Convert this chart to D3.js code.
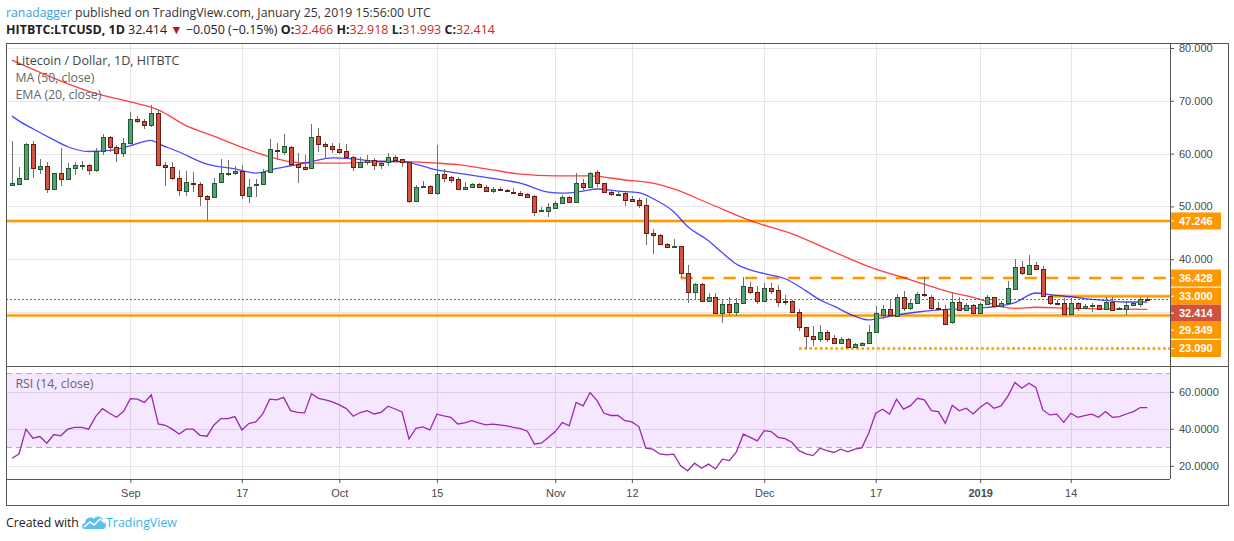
<!DOCTYPE html>
<html>
<head>
<meta charset="utf-8">
<script src="https://d3js.org/d3.v7.min.js"></script>
<style>
  body { margin: 0; background: #fff; }
  svg { display: block; font-family: "Liberation Sans", Arial, sans-serif; }
</style>
</head>
<body>
<svg id="chart"></svg>
<script>
// ---- data (daily candles, 15 Aug 2018 .. 25 Jan 2019) ----
const firstDay = "2018-08-15";
const lastDay = "2019-01-25";

const open = [
  54.0, 54.19, 55.26, 61.76, 57.03, 57.59, 53.24, 56.27, 55.13, 57.22,
  57.59, 57.78, 56.96, 60.5, 63.21, 61.32, 60.05, 61.95, 66.49, 66.17,
  65.35, 67.63, 57.78, 57.4, 55.45, 52.92, 54.5, 54.19, 51.91, 51.72,
  54.56, 56.14, 56.27, 56.71, 51.91, 53.99, 54.19, 56.46, 60.75, 60.37,
  61.19, 57.97, 57.4, 57.22, 63.34, 61.82, 61.38, 60.94, 60.43, 59.42,
  57.47, 58.41, 58.79, 57.78, 58.35, 59.42, 58.92, 58.35, 51.09, 53.62,
  53.81, 52.61, 56.08, 55.51, 55.13, 53.36, 53.62, 54.25, 53.62, 52.99,
  53.3, 53.11, 52.8, 52.61, 52.29, 51.97, 49.07, 49.2, 49.77, 50.59,
  51.72, 50.9, 54.37, 53.74, 56.46, 54.37, 52.73, 52.1, 52.48, 51.41,
  51.22, 50.21, 44.91, 44.53, 42.83, 42.38, 42.45, 37.34, 33.87, 35.32,
  32.16, 32.79, 29.89, 31.47, 30.08, 31.66, 34.69, 33.87, 32.16, 34.5,
  34.19, 32.09, 32.09, 30.07, 27.11, 25.47, 24.96, 26.22, 25.03, 24.2,
  24.9, 23.45, 23.82, 24.08, 26.16, 29.44, 30.58, 29.25, 32.79, 30.7,
  31.65, 33.42, 32.91, 30.83, 30.51, 28.05, 31.84, 30.39, 31.34, 29.88,
  31.46, 32.79, 31.21, 31.65, 34.36, 38.47, 37.14, 38.84, 38.09, 33.04,
  31.78, 31.65, 29.57, 31.65, 30.7, 31.15, 31.28, 30.64, 31.97, 30.58,
  30.58, 31.28, 31.46, 32.466
];
const high = [
  62.3, 57.53, 61.95, 62.39, 58.92, 58.48, 56.39, 61.0, 58.16, 58.48,
  58.6, 58.03, 61.0, 63.71, 63.34, 61.63, 62.89, 67.82, 67.12, 66.49,
  69.2, 68.26, 58.41, 58.48, 56.9, 56.65, 56.58, 54.69, 52.17, 55.32,
  58.92, 58.79, 57.72, 57.84, 55.26, 55.2, 57.03, 62.7, 61.95, 63.65,
  61.44, 60.05, 59.74, 65.54, 64.79, 62.2, 62.07, 61.95, 61.82, 59.55,
  59.42, 59.74, 59.11, 58.48, 60.18, 59.74, 59.04, 58.48, 54.06, 54.82,
  54.06, 61.63, 57.02, 55.76, 55.64, 54.56, 54.5, 54.5, 54.06, 53.74,
  53.74, 53.3, 53.43, 52.99, 52.48, 52.1, 49.96, 50.71, 50.97, 52.17,
  51.97, 56.39, 55.13, 56.52, 56.9, 54.5, 52.99, 52.99, 52.8, 51.97,
  51.53, 51.53, 45.73, 44.72, 43.14, 43.84, 42.51, 38.92, 35.57, 35.57,
  33.55, 33.55, 32.29, 32.92, 32.6, 36.71, 35.76, 34.94, 35.57, 35.57,
  35.13, 33.23, 32.28, 30.58, 27.11, 27.36, 27.55, 26.6, 25.66, 25.34,
  25.15, 24.2, 24.33, 27.55, 31.15, 31.34, 32.28, 33.42, 33.99, 32.28,
  33.86, 36.7, 33.23, 31.97, 31.34, 33.55, 32.91, 31.65, 31.52, 31.97,
  33.23, 32.91, 32.16, 35.94, 39.98, 39.73, 40.8, 39.54, 38.72, 33.23,
  32.28, 32.72, 32.72, 31.97, 31.46, 31.65, 31.34, 32.79, 32.91, 31.02,
  32.09, 31.97, 32.79, 32.918
];
const low = [
  53.87, 54.06, 55.0, 55.45, 56.14, 52.61, 53.11, 53.87, 55.0, 55.95,
  56.9, 55.95, 56.58, 59.74, 60.37, 58.48, 59.42, 61.82, 65.73, 64.6,
  65.1, 57.66, 53.87, 55.0, 52.04, 52.04, 52.8, 50.08, 47.31, 51.72,
  54.37, 55.76, 55.95, 51.47, 50.59, 51.72, 54.0, 56.46, 58.79, 59.74,
  58.0, 54.5, 56.9, 57.09, 60.24, 58.92, 60.05, 59.93, 59.11, 56.77,
  57.22, 57.84, 56.9, 57.09, 57.66, 58.35, 57.53, 50.71, 50.9, 53.43,
  52.48, 52.17, 54.69, 54.5, 53.11, 53.24, 53.43, 53.43, 52.73, 52.61,
  52.86, 52.7, 52.36, 51.97, 51.66, 48.19, 48.95, 48.06, 49.64, 50.46,
  50.71, 50.84, 53.11, 53.62, 53.62, 52.48, 51.97, 52.1, 50.08, 50.9,
  49.77, 42.7, 41.0, 42.7, 42.07, 42.38, 36.39, 31.79, 32.42, 32.16,
  32.16, 29.64, 28.0, 29.45, 29.26, 31.53, 33.43, 31.53, 31.97, 33.43,
  31.03, 31.34, 29.88, 26.48, 23.09, 23.57, 24.39, 24.39, 23.95, 24.08,
  23.32, 23.13, 23.76, 23.95, 25.97, 28.62, 29.13, 29.13, 30.26, 30.39,
  31.52, 32.91, 30.26, 30.26, 27.68, 27.74, 30.26, 30.2, 29.76, 29.76,
  31.34, 31.02, 31.02, 31.52, 34.18, 37.01, 37.01, 37.96, 32.91, 31.34,
  31.34, 29.44, 29.44, 30.2, 30.58, 30.07, 30.51, 30.51, 30.26, 30.51,
  29.44, 31.21, 31.02, 31.993
];
const close = [
  54.37, 55.32, 61.76, 57.22, 57.59, 53.24, 56.27, 55.13, 57.22, 57.78,
  57.78, 56.96, 60.43, 63.08, 61.32, 60.05, 61.95, 66.49, 66.17, 65.35,
  67.63, 57.78, 57.4, 55.45, 53.05, 54.56, 54.4, 51.91, 51.47, 54.37,
  56.27, 56.33, 56.71, 52.1, 53.74, 54.19, 56.46, 60.81, 60.6, 61.44,
  58.03, 57.4, 57.15, 63.08, 61.82, 61.38, 60.94, 60.24, 59.42, 57.47,
  58.41, 58.79, 57.78, 58.22, 59.42, 58.79, 58.41, 51.09, 53.62, 53.81,
  52.61, 56.08, 55.45, 55.07, 53.36, 53.62, 54.25, 53.62, 52.99, 53.3,
  53.05, 52.86, 52.48, 52.1, 51.85, 49.0, 49.33, 49.83, 50.65, 51.79,
  50.9, 54.37, 53.74, 56.27, 54.37, 52.67, 52.29, 52.36, 51.28, 51.09,
  50.21, 44.91, 44.53, 42.83, 42.38, 42.51, 37.34, 33.87, 35.32, 32.16,
  32.79, 29.89, 31.53, 30.08, 31.66, 34.94, 33.87, 32.16, 34.5, 34.06,
  31.97, 31.9, 30.07, 27.11, 25.47, 24.96, 26.22, 24.96, 24.2, 24.9,
  23.45, 23.89, 24.08, 26.16, 29.76, 30.58, 29.51, 32.79, 30.7, 31.65,
  33.36, 33.23, 30.83, 30.51, 27.8, 31.84, 30.39, 31.34, 29.88, 31.52,
  32.79, 31.21, 31.78, 34.49, 38.47, 37.33, 38.91, 38.09, 33.04, 31.65,
  31.65, 29.57, 31.65, 30.7, 31.15, 31.34, 30.64, 31.97, 30.45, 30.77,
  31.28, 31.65, 32.41, 32.414
];
const rsi = [
  24.1, 26.4, 39.8, 34.9, 35.8, 32.2, 36.9, 36.2, 39.8, 40.8,
  40.8, 39.8, 46.6, 50.9, 48.4, 46.2, 49.3, 56.3, 56.0, 54.3,
  58.3, 42.6, 41.9, 39.8, 37.2, 39.8, 39.8, 36.5, 36.0, 42.1,
  45.5, 45.5, 46.6, 39.4, 42.8, 43.7, 48.0, 56.0, 55.6, 57.0,
  49.8, 48.9, 48.6, 59.0, 56.5, 55.6, 54.5, 52.9, 50.9, 46.8,
  48.8, 49.8, 48.0, 48.9, 52.2, 50.7, 49.1, 34.5, 40.3, 41.0,
  39.4, 47.9, 47.0, 46.2, 42.6, 43.2, 44.4, 43.2, 42.1, 42.5,
  42.1, 41.6, 40.8, 40.1, 38.7, 31.8, 32.2, 35.3, 38.5, 43.4,
  41.6, 54.3, 52.4, 59.6, 55.2, 48.4, 47.2, 47.2, 44.4, 43.7,
  41.2, 29.5, 29.0, 26.4, 25.9, 26.3, 20.0, 17.3, 21.4, 18.7,
  20.9, 18.3, 23.6, 22.8, 27.5, 37.1, 35.4, 33.5, 39.0, 38.5,
  35.4, 34.7, 32.6, 28.2, 26.4, 25.5, 29.5, 28.2, 27.2, 29.0,
  27.5, 29.0, 29.7, 37.6, 48.4, 50.6, 48.0, 56.0, 50.6, 52.5,
  56.5, 55.6, 49.8, 49.3, 43.0, 52.7, 49.7, 51.1, 48.0, 51.6,
  54.2, 51.1, 52.4, 57.8, 65.0, 61.9, 64.6, 62.4, 50.2, 47.5,
  47.9, 43.5, 48.4, 46.2, 47.1, 47.9, 46.2, 49.3, 46.2, 46.6,
  48.0, 49.3, 51.5, 51.5
];

// moving averages
const ma50Dates = ["2018-08-15", "2018-08-21", "2018-08-27", "2018-09-01", "2018-09-05", "2018-09-09",
  "2018-09-13", "2018-09-17", "2018-09-21", "2018-09-25", "2018-10-01", "2018-10-05", "2018-10-10",
  "2018-10-15", "2018-10-18", "2018-10-23", "2018-10-27", "2018-11-01", "2018-11-06", "2018-11-11",
  "2018-11-15", "2018-11-18", "2018-11-23", "2018-11-29", "2018-12-05", "2018-12-11", "2018-12-16",
  "2018-12-22", "2018-12-27", "2019-01-01", "2019-01-04", "2019-01-06", "2019-01-09", "2019-01-14",
  "2019-01-19", "2019-01-25"];
const ma50Values = [77.7, 74.3, 71.4, 69.8, 68.3, 65.3, 63.3, 61.2, 59.4, 58.3, 58.2, 58.4, 58.5,
  58.2, 57.9, 56.9, 56.1, 55.8, 55.8, 55.0, 54.4, 53.3, 50.6, 47.3, 44.8, 41.4, 38.6, 36.1, 34.0,
  32.4, 31.0, 30.7, 30.9, 30.7, 30.6, 30.5];

const ema20Dates = ["2018-08-15", "2018-08-16", "2018-08-18", "2018-08-21", "2018-08-23", "2018-08-26",
  "2018-08-29", "2018-09-01", "2018-09-04", "2018-09-05", "2018-09-08", "2018-09-12", "2018-09-16",
  "2018-09-19", "2018-09-22", "2018-09-24", "2018-09-27", "2018-09-30", "2018-10-03", "2018-10-06",
  "2018-10-10", "2018-10-15", "2018-10-19", "2018-10-23", "2018-10-27", "2018-10-31", "2018-11-02",
  "2018-11-05", "2018-11-07", "2018-11-10", "2018-11-13", "2018-11-15", "2018-11-18", "2018-11-20",
  "2018-11-23", "2018-11-25", "2018-11-27", "2018-11-30", "2018-12-02", "2018-12-04", "2018-12-07",
  "2018-12-09", "2018-12-11", "2018-12-14", "2018-12-16", "2018-12-17", "2018-12-20", "2018-12-23",
  "2018-12-26", "2018-12-29", "2019-01-01", "2019-01-03", "2019-01-06", "2019-01-09", "2019-01-11",
  "2019-01-14", "2019-01-17", "2019-01-19", "2019-01-22", "2019-01-25"];
const ema20Values = [67.1, 66.2, 64.7, 62.6, 61.3, 60.4, 60.6, 61.5, 62.5, 61.9, 60.3, 58.0, 57.1,
  56.3, 57.2, 57.7, 58.5, 59.2, 59.0, 58.6, 58.5, 56.9, 56.1, 55.3, 54.4, 52.7, 52.5, 52.9, 53.3,
  52.9, 52.6, 51.5, 49.0, 46.2, 43.5, 41.2, 39.1, 37.6, 37.0, 36.3, 34.0, 32.3, 31.1, 29.2, 28.5,
  28.7, 29.4, 30.0, 30.4, 30.6, 30.8, 31.0, 31.8, 33.6, 33.3, 32.9, 32.4, 32.2, 31.9, 31.9];

// drawn horizontal levels
const levelValues = [47.246, 36.428, 33.0, 29.349, 23.09];
const levelFrom = [null, "2018-11-19", "2019-01-11", null, "2018-12-06"];

// axis ticks
const tickDates = ["2018-09-01", "2018-09-17", "2018-10-01", "2018-10-15", "2018-11-01",
  "2018-11-12", "2018-12-01", "2018-12-17", "2019-01-01", "2019-01-14"];
const tickLabels = ["Sep", "17", "Oct", "15", "Nov", "12", "Dec", "17", "2019", "14"];
const priceTicks = [30, 40, 50, 60, 70, 80];
const rsiTicks = [20, 40, 60];

// ---- layout ----
const size = { w: 1234, h: 541 };
const pane = { l: 6, r: 1170, t: 43, priceB: 366, rsiB: 479, axisB: 505, scaleR: 1228 };
const svg = d3.select("svg#chart").attr("width", size.w).attr("height", size.h);
const parse = d3.utcParse("%Y-%m-%d");
const dates = d3.utcDay.range(parse(firstDay), d3.utcDay.offset(parse(lastDay), 1));

const x = d3.scaleUtc().domain([dates[0], dates[dates.length - 1]]).range([12, 1147.3]);
const yP = d3.scaleLinear().domain([23.09, 80]).range([348.5, 48]);
const yR = d3.scaleLinear().domain([30, 70]).range([447.3, 373.3]);

const defs = svg.append("defs");
defs.append("clipPath").attr("id", "clipPrice").append("rect")
  .attr("x", pane.l).attr("y", pane.t).attr("width", pane.r - pane.l).attr("height", pane.priceB - pane.t);
defs.append("clipPath").attr("id", "clipRsi").append("rect")
  .attr("x", pane.l).attr("y", pane.priceB).attr("width", pane.r - pane.l).attr("height", pane.rsiB - pane.priceB);

// grid
const grid = svg.append("g").attr("shape-rendering", "crispEdges").attr("stroke", "#e6e6e6");
grid.selectAll("line.v").data(tickDates).join("line")
  .attr("x1", (d) => Math.round(x(parse(d))) + 0.5).attr("x2", (d) => Math.round(x(parse(d))) + 0.5)
  .attr("y1", pane.t).attr("y2", pane.rsiB);
grid.selectAll("line.hp").data(priceTicks).join("line")
  .attr("x1", pane.l).attr("x2", pane.r)
  .attr("y1", (d) => Math.round(yP(d)) + 0.5).attr("y2", (d) => Math.round(yP(d)) + 0.5);
grid.selectAll("line.hr").data(rsiTicks).join("line")
  .attr("x1", pane.l).attr("x2", pane.r)
  .attr("y1", (d) => Math.round(yR(d)) + 0.5).attr("y2", (d) => Math.round(yR(d)) + 0.5);

// ---- price pane ----
const priceG = svg.append("g").attr("clip-path", "url(#clipPrice)");

// levels
const levelDash = [null, "12,9.5", null, null, "2.6,2.6"];
const levelStartX = (i) => (levelFrom[i] ? x(parse(levelFrom[i])) : pane.l);
levelValues.forEach((v, i) => {
  const yy = yP(v);
  priceG.append("line").attr("x1", levelStartX(i)).attr("x2", pane.r).attr("y1", yy).attr("y2", yy)
    .attr("stroke", "#ffd699").attr("stroke-width", 3.6).attr("stroke-dasharray", levelDash[i]);
  priceG.append("line").attr("x1", levelStartX(i)).attr("x2", pane.r).attr("y1", yy).attr("y2", yy)
    .attr("stroke", "#ff9800").attr("stroke-width", 2).attr("stroke-dasharray", levelDash[i]);
});

// last price line
const lastClose = close[close.length - 1];
priceG.append("line").attr("x1", pane.l).attr("x2", pane.r)
  .attr("y1", Math.round(yP(lastClose)) + 0.5).attr("y2", Math.round(yP(lastClose)) + 0.5)
  .attr("stroke", "#e53935").attr("stroke-width", 1).attr("stroke-dasharray", "2,2");

// moving averages
const maLine = d3.line().x((d) => x(parse(d[0]))).y((d) => yP(d[1])).curve(d3.curveMonotoneX);
priceG.append("path").datum(d3.zip(ma50Dates, ma50Values)).attr("d", maLine)
  .attr("fill", "none").attr("stroke", "#ff0000").attr("stroke-opacity", 0.75).attr("stroke-width", 1.3);
priceG.append("path").datum(d3.zip(ema20Dates, ema20Values)).attr("d", maLine)
  .attr("fill", "none").attr("stroke", "#0000ff").attr("stroke-opacity", 0.72).attr("stroke-width", 1.3);

// candles
const candles = dates.map((d, i) => ({ date: d, o: open[i], h: high[i], l: low[i], c: close[i] }));
const cx = (d) => Math.round(x(d.date));
const cg = priceG.selectAll("g.candle").data(candles).join("g").classed("candle", true)
  .attr("shape-rendering", "crispEdges");
cg.append("line")
  .attr("x1", (d) => cx(d) + 0.5).attr("x2", (d) => cx(d) + 0.5)
  .attr("y1", (d) => Math.round(yP(d.h))).attr("y2", (d) => Math.round(yP(d.l)))
  .attr("stroke", "#707070");
cg.append("rect")
  .attr("x", (d) => cx(d) - 1.5)
  .attr("width", 4)
  .attr("y", (d) => Math.round(yP(Math.max(d.o, d.c))) + 0.5)
  .attr("height", (d) => Math.max(1, Math.round(yP(Math.min(d.o, d.c))) - Math.round(yP(Math.max(d.o, d.c)))))
  .attr("fill", (d) => (d.c >= d.o ? "#5a9f72" : "#d3533f"))
  .attr("stroke", (d) => (d.c >= d.o ? "#1f5a33" : "#6b1c12"));

// ---- RSI pane ----
const rsiG = svg.append("g").attr("clip-path", "url(#clipRsi)");
rsiG.append("rect").attr("x", pane.l).attr("width", pane.r - pane.l)
  .attr("y", yR(70)).attr("height", yR(30) - yR(70)).attr("fill", "rgba(153,21,255,0.1)");
[70, 30].forEach((v) => {
  rsiG.append("line").attr("x1", pane.l).attr("x2", pane.r)
    .attr("y1", Math.round(yR(v)) + 0.5).attr("y2", Math.round(yR(v)) + 0.5)
    .attr("stroke", "#b9aec0").attr("stroke-dasharray", "6,4").attr("shape-rendering", "crispEdges");
});
rsiG.append("path").datum(d3.zip(dates, rsi))
  .attr("d", d3.line().x((d) => x(d[0])).y((d) => yR(d[1])))
  .attr("fill", "none").attr("stroke", "#9c27b0").attr("stroke-width", 1.3);

// ---- axes ----
const axisText = (g) => g.selectAll("text").attr("fill", "#4a4a4a").attr("font-size", 11)
  .attr("font-family", '"Liberation Sans", Arial, sans-serif');

// level label positions (pushed down when they would overlap)
const levelItems = levelValues.map((v) => ({ v: v, fill: "#ff9800" }))
  .concat([{ v: lastClose, fill: "#d2503e" }])
  .sort((a, b) => b.v - a.v);
let prevY = -Infinity;
levelItems.forEach((d) => {
  d.y = Math.max(yP(d.v), prevY + 17);
  prevY = d.y;
});

const shownTicks = priceTicks.filter((t) => levelItems.every((d) => Math.abs(yP(t) - d.y) > 9));
const pAxis = svg.append("g").attr("transform", `translate(${pane.r},0)`)
  .call(d3.axisRight(yP).tickValues(shownTicks).tickSize(4).tickPadding(5).tickFormat(d3.format(".3f")));
pAxis.select(".domain").remove();
pAxis.selectAll("line").attr("stroke", "#555");
axisText(pAxis);

const rAxis = svg.append("g").attr("transform", `translate(${pane.r},0)`)
  .call(d3.axisRight(yR).tickValues(rsiTicks).tickSize(4).tickPadding(5).tickFormat(d3.format(".4f")));
rAxis.select(".domain").remove();
rAxis.selectAll("line").attr("stroke", "#555");
axisText(rAxis);

const xAxis = svg.append("g").attr("transform", `translate(0,${pane.rsiB})`)
  .call(d3.axisBottom(x).tickValues(tickDates.map(parse)).tickSize(4).tickPadding(6)
    .tickFormat((d, i) => tickLabels[i]));
xAxis.select(".domain").remove();
xAxis.selectAll("line").attr("stroke", "#555");
axisText(xAxis);
xAxis.selectAll("text").attr("font-weight", (d, i) => (tickLabels[i] === "2019" ? "bold" : null));

// level labels on the price scale
const lab = svg.append("g").selectAll("g").data(levelItems).join("g");
lab.append("rect").attr("x", pane.r).attr("width", 51)
  .attr("y", (d) => d.y - 8.5).attr("height", 17).attr("fill", (d) => d.fill);
lab.append("line").attr("x1", pane.r).attr("x2", pane.r + 4)
  .attr("y1", (d) => d.y).attr("y2", (d) => d.y).attr("stroke", "#fff");
lab.append("text").attr("x", pane.r + 9).attr("y", (d) => d.y).attr("dy", "0.36em")
  .attr("fill", "#fff").attr("font-size", 11).attr("font-weight", "bold")
  .text((d) => d3.format(".3f")(d.v));

// ---- frame ----
const frame = svg.append("g").attr("fill", "none").attr("stroke", "#555").attr("shape-rendering", "crispEdges");
frame.append("rect").attr("x", pane.l + 0.5).attr("y", pane.t + 0.5)
  .attr("width", pane.scaleR - pane.l).attr("height", pane.axisB - pane.t);
frame.append("line").attr("x1", pane.l).attr("x2", pane.scaleR).attr("y1", pane.priceB + 0.5).attr("y2", pane.priceB + 0.5);
frame.append("line").attr("x1", pane.l).attr("x2", pane.r).attr("y1", pane.rsiB + 0.5).attr("y2", pane.rsiB + 0.5);
frame.append("line").attr("x1", pane.r + 0.5).attr("x2", pane.r + 0.5).attr("y1", pane.t).attr("y2", pane.rsiB);

// ---- texts ----
function fitWidth(sel, target) {
  const w = sel.node().getComputedTextLength();
  const fs = parseFloat(sel.attr("font-size"));
  sel.attr("font-size", (fs * target / w).toFixed(2));
}
const uiFont = '"Open Sans", "Noto Sans", sans-serif';

const h1 = svg.append("text").attr("x", 6).attr("y", 17).attr("font-family", uiFont).attr("font-size", 12);
h1.append("tspan").attr("fill", "#3aa1dc").text("ranadagger");
h1.append("tspan").attr("fill", "#333").text(" published on TradingView.com, January 25, 2019 15:56:00 UTC");
fitWidth(h1, 425);

const h2 = svg.append("text").attr("x", 6).attr("y", 34).attr("font-family", uiFont).attr("font-size", 12).attr("fill", "#222");
h2.append("tspan").attr("font-weight", "bold").text("HITBTC:LTCUSD, 1D");
h2.append("tspan").text(" 32.414 ");
h2.append("tspan").attr("fill", "#b71c1c").text("▼");
h2.append("tspan").text(" −0.050 (−0.15%) ");
[["O:", "32.466"], ["H:", "32.918"], ["L:", "31.993"], ["C:", "32.414"]].forEach((p, i) => {
  h2.append("tspan").attr("font-weight", "bold").text((i ? " " : "") + p[0]);
  h2.append("tspan").attr("fill", "#c62828").text(p[1]);
});
fitWidth(h2, 489);

const legend = [["Litecoin / Dollar, 1D, HITBTC", 65, 164, "#444"], ["MA (50, close)", 82, 79, "#666"],
  ["EMA (20, close)", 99, 86, "#666"], ["RSI (14, close)", 388, 78, "#666"]];
legend.forEach((l) => {
  const t = svg.append("text").attr("x", 15.5).attr("y", l[1]).attr("font-family", uiFont)
    .attr("font-size", 12).attr("fill", l[3]).text(l[0]);
  fitWidth(t, l[2]);
});

// footer
const f1 = svg.append("text").attr("x", 6).attr("y", 527).attr("font-family", uiFont)
  .attr("font-size", 12).attr("fill", "#222").text("Created with");
fitWidth(f1, 73);
const logo = svg.append("g").attr("transform", "translate(82,515)");
logo.append("path").attr("fill", "#5bc0eb")
  .attr("d", "M3,14 C-1,14 -1,8 3,8 C3,3 9,1 12,4 C14,0 21,1 21,6 C25,6 25,14 21,14 Z");
logo.append("path").attr("fill", "none").attr("stroke", "#fff").attr("stroke-width", 1.6)
  .attr("d", "M2,12 L8,7 L12,10 L18,4 L23,8");
const f2 = svg.append("text").attr("x", 106).attr("y", 527).attr("font-family", uiFont)
  .attr("font-size", 12).attr("fill", "#3bb3e4").text("TradingView");
fitWidth(f2, 71);
</script>
</body>
</html>
